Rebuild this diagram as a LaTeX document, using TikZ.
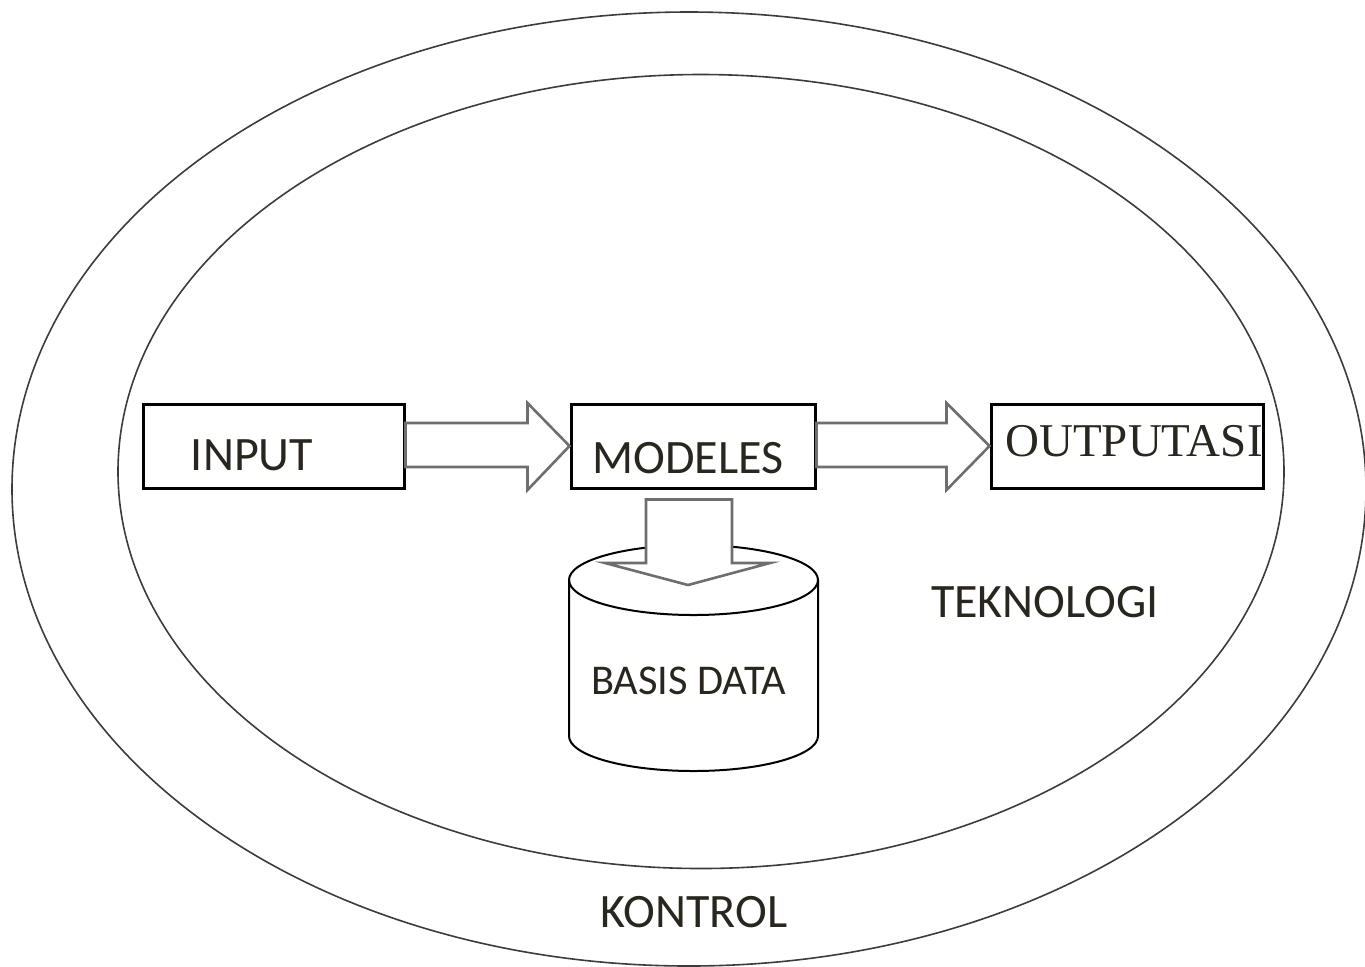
\documentclass[tikz,border=0pt]{standalone}
\usepackage{fontspec}
\setmainfont{Carlito}
\newfontfamily\serifTNR{Liberation Serif}
\usetikzlibrary{calc}
\definecolor{txt}{RGB}{40,38,30}
\definecolor{arrgray}{RGB}{110,110,110}
\definecolor{ringgray}{RGB}{60,60,60}
\tikzset{
  procbox/.style={draw=black, line width=1.5pt, fill=white, inner sep=0pt},
  lbl/.style={text=txt, font=\fontsize{24}{28}\selectfont, anchor=base, inner sep=0pt},
  blockarrow/.style={draw=arrgray, line width=1.3pt, fill=white, line join=miter},
  ring/.style={draw=ringgray, line width=0.8pt},
}
\begin{document}
\begin{tikzpicture}[x=0.5pt,y=-0.5pt]
\useasboundingbox (0,0) rectangle (1365,966);
% rings
\draw[ring] (689,489) ellipse [x radius=677, y radius=477];
\draw[ring] (701,471.5) ellipse [x radius=583, y radius=397];
% boxes
\node[procbox, minimum width=261*0.5pt, minimum height=84*0.5pt] (in) at (273.5,446) {};
\node[procbox, minimum width=244*0.5pt, minimum height=84*0.5pt] (mod) at (693,446) {};
\node[procbox, minimum width=272*0.5pt, minimum height=84*0.5pt] (out) at (1127,446) {};
% cylinder
\coordinate (db) at (693.5,580);
\fill[white] (569,580) -- (569,736) arc[start angle=180, end angle=0, x radius=124.5, y radius=35] -- (818,580) arc[start angle=0, end angle=-180, x radius=124.5, y radius=35] -- cycle;
\draw[black, line width=1pt] (569,580) -- (569,736) arc[start angle=180, end angle=0, x radius=124.5, y radius=35] -- (818,580);
\draw[black, line width=1pt] (db) ellipse [x radius=124.5, y radius=35];
% block arrows
\draw[blockarrow] ($(in.east)+(0,-23)$) -- ($(mod.west)+(-42,-23)$) -- ($(mod.west)+(-42,-43)$) -- (mod.west) -- ($(mod.west)+(-42,44)$) -- ($(mod.west)+(-42,21)$) -- ($(in.east)+(0,21)$) -- cycle;
\draw[blockarrow] ($(mod.east)+(0,-23)$) -- ($(out.west)+(-43,-23)$) -- ($(out.west)+(-43,-43)$) -- (out.west) -- ($(out.west)+(-43,44)$) -- ($(out.west)+(-43,21)$) -- ($(mod.east)+(0,21)$) -- cycle;
\draw[blockarrow] ($(mod.south)+(-47,10)$) -- ($(mod.south)+(39,10)$) -- ($(db)+(38.5,-17)$) -- ($(db)+(76.5,-17)$) -- ($(db)+(-5.5,5)$) -- ($(db)+(-88.5,-17)$) -- ($(db)+(-47.5,-17)$) -- cycle;
% labels
\node[lbl] (tin) at (252,470) {INPUT};
\node[lbl] (tmod) at (688,473) {MODELES};
\node[lbl, font=\serifTNR\fontsize{23.5}{28}\selectfont] (tout) at (1134,456) {OUTPUTASI};
\node[lbl] (ttek) at (1045,617) {TEKNOLOGI};
\node[lbl, font=\fontsize{21.2}{25}\selectfont] (tdb) at (688.5,694) {BASIS DATA};
\node[lbl] (tkon) at (694,927) {KONTROL};
\end{tikzpicture}
\end{document}
